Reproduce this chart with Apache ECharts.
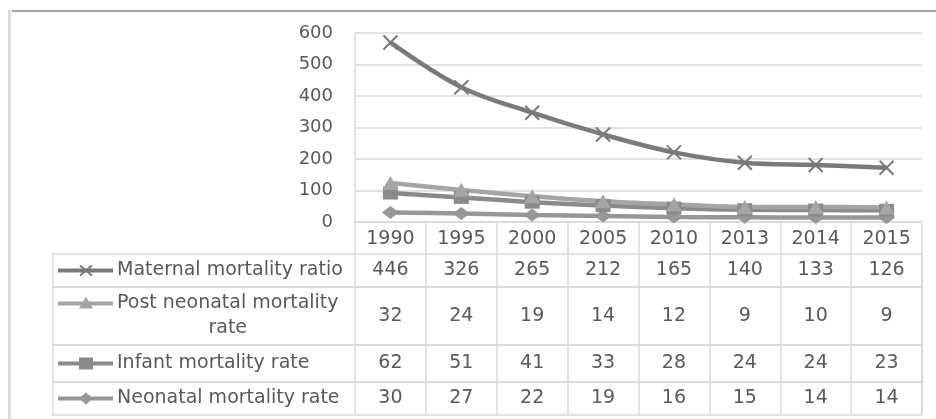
<!DOCTYPE html>
<html>
<head>
<meta charset="utf-8">
<script src="https://cdn.jsdelivr.net/npm/echarts@6/dist/echarts.min.js"></script>
<style>
  html, body { margin: 0; padding: 0; background: #fff; }
  #main { width: 936px; height: 419px; }
</style>
</head>
<body>
<div id="main"></div>
<script>
// data (table values; the plot is a stacked line chart)
var years = ['1990', '1995', '2000', '2005', '2010', '2013', '2014', '2015'];
var maternal = [446, 326, 265, 212, 165, 140, 133, 126];
var postNeonatal = [32, 24, 19, 14, 12, 9, 10, 9];
var infant = [62, 51, 41, 33, 28, 24, 24, 23];
var neonatal = [30, 27, 22, 19, 16, 15, 14, 14];
var rowNames = ['Maternal mortality ratio', 'Post neonatal mortality rate', 'Infant mortality rate', 'Neonatal mortality rate'];
var rowValues = [maternal, postNeonatal, infant, neonatal];

// look of each row / series
var crossPath = 'path://M0,0L10,10M10,0L0,10';
var rowColors = ['#7a7a7a', '#a5a5a5', '#8a8a8a', '#979797'];
var rowSymbols = ['cross', 'triangle', 'rect', 'diamond'];

// table layout
var rowEdges = [0, 33, 91, 128, 161];
var labelColWidth = 302;
var textColor = '#595959';
var gridColor = '#d9d9d9';
var font = '19px "DejaVu Sans"';

var measureCtx = document.createElement('canvas').getContext('2d');
measureCtx.font = font;
function textWidth(s) { return measureCtx.measureText(s).width; }

function wrapText(s, maxW) {
    var words = s.split(' '), lines = [], cur = '';
    for (var i = 0; i < words.length; i++) {
        var t = cur ? cur + ' ' + words[i] : words[i];
        if (textWidth(t) > maxW && cur) {
            lines.push(cur);
            cur = words[i];
        } else {
            cur = t;
        }
    }
    lines.push(cur);
    return lines;
}

function markerEl(kind, cx, cy, color) {
    if (kind === 'cross') {
        return { type: 'path', shape: { pathData: 'M-6,-5L6,5M6,-5L-6,5' }, x: cx, y: cy,
            style: { stroke: color, lineWidth: 2, fill: null } };
    }
    if (kind === 'triangle') {
        return { type: 'polygon', shape: { points: [[cx, cy - 7], [cx + 7, cy + 5], [cx - 7, cy + 5]] }, style: { fill: color } };
    }
    if (kind === 'rect') {
        return { type: 'rect', shape: { x: cx - 7, y: cy - 6, width: 14, height: 12 }, style: { fill: color } };
    }
    return { type: 'polygon', shape: { points: [[cx, cy - 6], [cx + 7, cy], [cx, cy + 6], [cx - 7, cy]] }, style: { fill: color } };
}

function renderRow(params, api) {
    var r = api.value(1);
    var cs = params.coordSys;
    var top = api.coord([0, rowEdges[r]])[1];
    var bottom = api.coord([0, rowEdges[r + 1]])[1];
    var x0 = cs.x - labelColWidth;
    var x1 = cs.x + cs.width;
    var mid = (top + bottom) / 2;
    var lineH = 25;
    var textLeft = x0 + 64;
    var lines = wrapText(rowNames[r], cs.x - textLeft - 3);
    var firstY = mid - (lines.length - 1) * lineH / 2;
    var children = [
        { type: 'rect', shape: { x: x0, y: top, width: x1 - x0, height: bottom - top },
            style: { fill: null, stroke: gridColor, lineWidth: 1.5 } },
        { type: 'line', shape: { x1: x0 + 5, y1: firstY, x2: x0 + 60, y2: firstY },
            style: { stroke: rowColors[r], lineWidth: 4 } },
        markerEl(rowSymbols[r], x0 + 33, firstY, rowColors[r])
    ];
    var blockW = 0;
    lines.forEach(function (l) { blockW = Math.max(blockW, textWidth(l)); });
    lines.forEach(function (l, i) {
        children.push({
            type: 'text',
            style: {
                text: l, x: lines.length > 1 ? textLeft + blockW / 2 : textLeft, y: firstY + i * lineH,
                align: lines.length > 1 ? 'center' : 'left', verticalAlign: 'middle',
                fill: textColor, font: font
            }
        });
    });
    return { type: 'group', children: children };
}

function renderCell(params, api) {
    var col = api.value(0), r = api.value(1);
    var p = api.coord([col, (rowEdges[r] + rowEdges[r + 1]) / 2]);
    return {
        type: 'text',
        style: { text: String(api.value(2)), x: p[0], y: p[1], align: 'center', verticalAlign: 'middle', fill: textColor, font: font }
    };
}

var cellData = [];
rowValues.forEach(function (vals, r) {
    vals.forEach(function (v, c) { cellData.push([c, r, v]); });
});

function lineSeries(name, data, idx, symbol, size) {
    return {
        name: name,
        type: 'line',
        stack: 'total',
        data: data,
        smooth: 0.35,
        symbol: symbol,
        symbolSize: size,
        showSymbol: true,
        lineStyle: { color: rowColors[idx], width: 4.5 },
        itemStyle: { color: rowColors[idx], borderColor: rowColors[idx], borderWidth: symbol === crossPath ? 2 : 0 },
        emphasis: { disabled: true }
    };
}

var chart = echarts.init(document.getElementById('main'));

var option = {
    animation: false,
    backgroundColor: '#fff',
    textStyle: { fontFamily: 'DejaVu Sans' },
    graphic: [
        { type: 'line', shape: { x1: 12, y1: 11, x2: 936, y2: 11 }, style: { stroke: '#a6a6a6', lineWidth: 2 } },
        { type: 'line', shape: { x1: 9.5, y1: 10, x2: 9.5, y2: 419 }, style: { stroke: '#dcdcdc', lineWidth: 3 } }
    ],
    grid: [
        { left: 355, right: 14, top: 33, height: 189 },
        { left: 355, right: 14, top: 254, height: 161 }
    ],
    xAxis: [
        {
            type: 'category', data: years, gridIndex: 0, boundaryGap: true,
            axisLine: { show: true, lineStyle: { color: gridColor, width: 1.5 } },
            axisTick: { show: true, interval: 0, length: 193, lineStyle: { color: gridColor, width: 1.5 } },
            axisLabel: { color: textColor, fontSize: 19, margin: 8, interval: 0 }
        },
        {
            type: 'category', data: years, gridIndex: 1, boundaryGap: true,
            axisLine: { show: false }, axisTick: { show: false }, axisLabel: { show: false }
        }
    ],
    yAxis: [
        {
            type: 'value', gridIndex: 0, min: 0, max: 600, interval: 100,
            axisLine: { show: true, lineStyle: { color: gridColor, width: 1.5 } },
            axisTick: { show: false },
            splitLine: { lineStyle: { color: gridColor, width: 1.5 } },
            axisLabel: { color: textColor, fontSize: 18, margin: 22 }
        },
        {
            type: 'value', gridIndex: 1, min: 0, max: rowEdges[rowEdges.length - 1], inverse: true, show: false,
            splitLine: { show: false }
        }
    ],
    series: [
        lineSeries('Neonatal mortality rate', neonatal, 3, 'diamond', [17, 13]),
        lineSeries('Infant mortality rate', infant, 2, 'rect', [15, 13]),
        lineSeries('Post neonatal mortality rate', postNeonatal, 1, 'triangle', [16, 14]),
        lineSeries('Maternal mortality ratio', maternal, 0, crossPath, 14),
        {
            type: 'custom', xAxisIndex: 1, yAxisIndex: 1,
            data: rowNames.map(function (n, r) { return [0, r]; }),
            renderItem: renderRow, silent: true, clip: false
        },
        {
            type: 'custom', xAxisIndex: 1, yAxisIndex: 1,
            data: cellData,
            encode: { x: 0, y: 1 },
            renderItem: renderCell, silent: true, clip: false
        }
    ]
};

chart.setOption(option);
</script>
</body>
</html>
